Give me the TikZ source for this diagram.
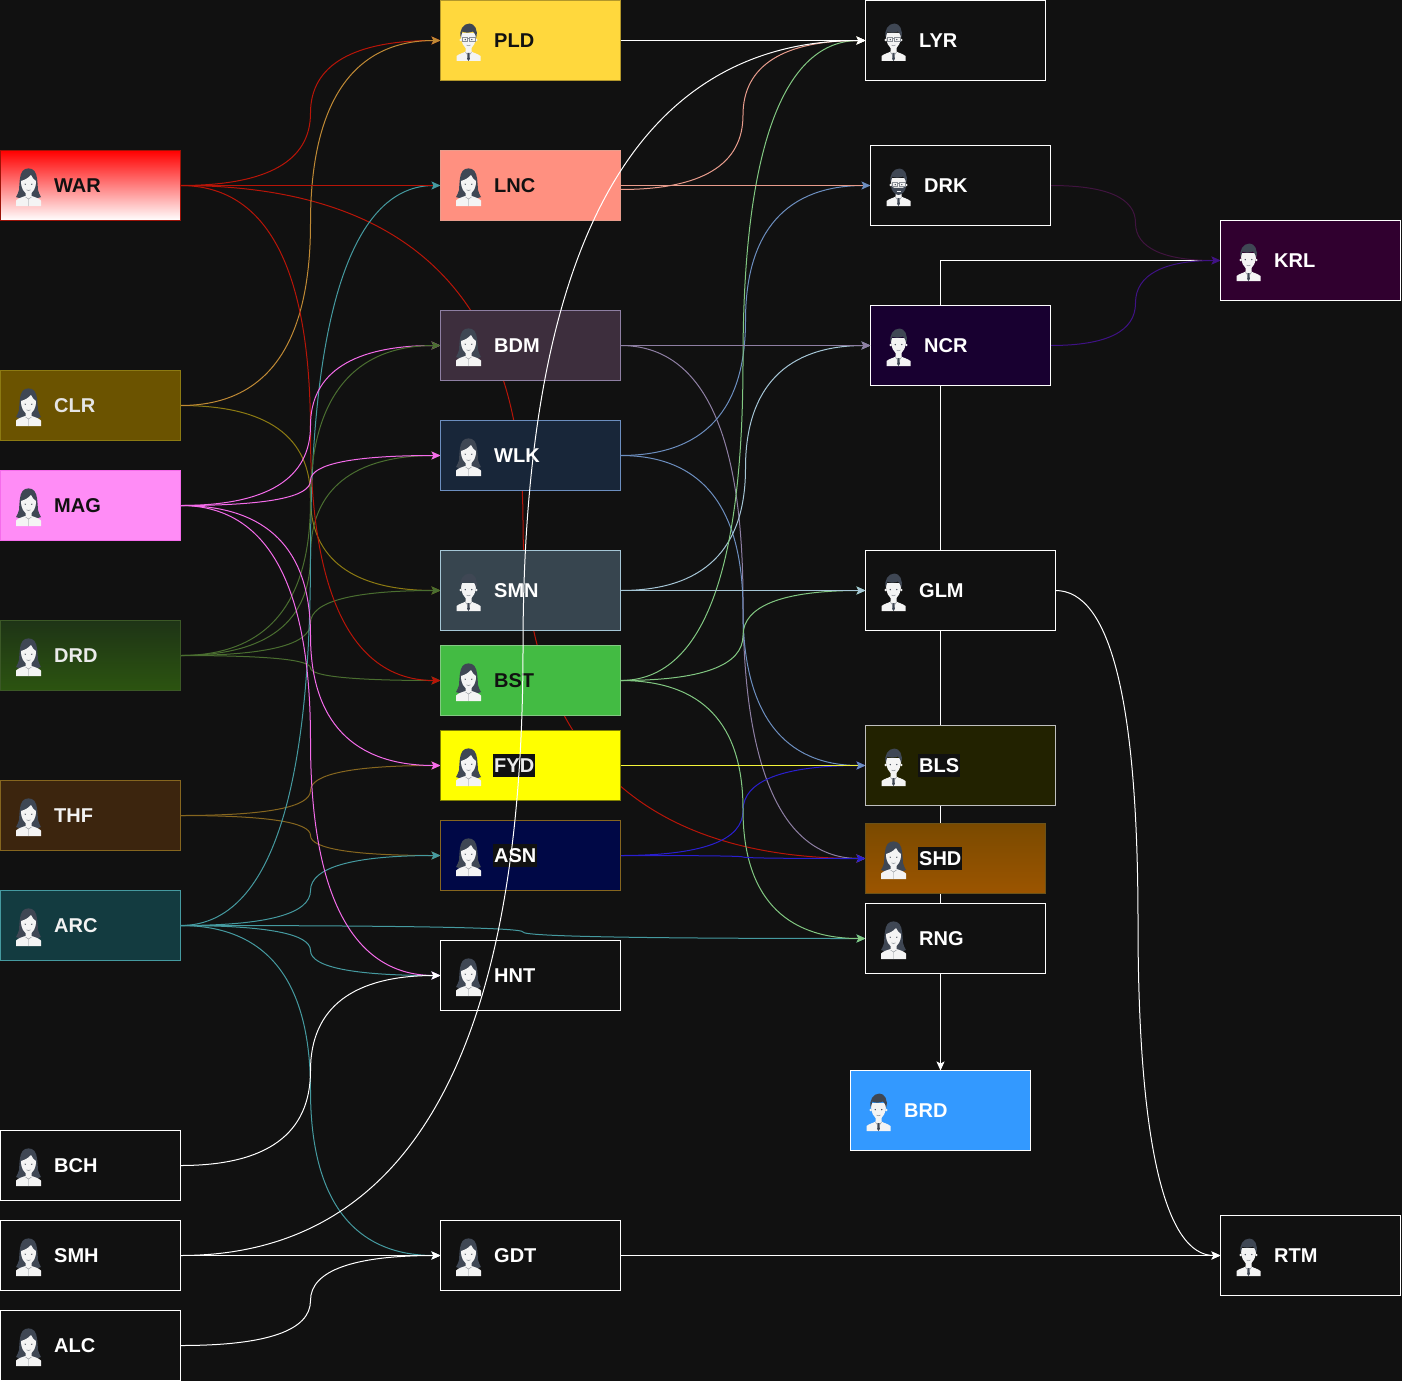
\documentclass[tikz,border=0pt]{standalone}
\usepackage{fontspec}
\setmainfont{Liberation Sans}
\usetikzlibrary{arrows.meta,calc}
\pgfdeclarelayer{edgelayer}
\pgfsetlayers{edgelayer,main}
\definecolor{bgc}{HTML}{111111}
\definecolor{hairc}{HTML}{3F4754}
\definecolor{skinc}{HTML}{F4F4F4}
\definecolor{linec}{HTML}{8A8F96}
\definecolor{ered}{HTML}{B81508}
\definecolor{eorange}{HTML}{C08A35}
\definecolor{eolive}{HTML}{8C7A12}
\definecolor{emag}{HTML}{F56CEB}
\definecolor{egreen}{HTML}{4A6E30}
\definecolor{ebrown}{HTML}{86661F}
\definecolor{eteal}{HTML}{459AA0}
\definecolor{esalmon}{HTML}{E89C8C}
\definecolor{epurpleg}{HTML}{8E7FA3}
\definecolor{eblue}{HTML}{6C8EBF}
\definecolor{esky}{HTML}{A5C6D6}
\definecolor{elgreen}{HTML}{82C882}
\definecolor{eyellow}{HTML}{F5F53A}
\definecolor{eroyal}{HTML}{2A1FD0}
\definecolor{edkpur}{HTML}{40143F}
\definecolor{epur}{HTML}{3F1285}
\definecolor{fwar}{HTML}{FF0000}
\definecolor{fyel}{HTML}{FFFF00}
\definecolor{fclr}{HTML}{6B5300}
\definecolor{fmag}{HTML}{FF8CF6}
\definecolor{fdrdt}{HTML}{1E3416}
\definecolor{fdrdb}{HTML}{2C5410}
\definecolor{fthf}{HTML}{3C250E}
\definecolor{farc}{HTML}{133B40}
\definecolor{fpld}{HTML}{FFD83D}
\definecolor{flnc}{HTML}{FF9080}
\definecolor{fbdm}{HTML}{3D2E3D}
\definecolor{fwlk}{HTML}{182639}
\definecolor{fsmn}{HTML}{37454F}
\definecolor{fbst}{HTML}{43BB43}
\definecolor{fasn}{HTML}{000846}
\definecolor{fncr}{HTML}{180030}
\definecolor{fbls}{HTML}{222200}
\definecolor{fshdt}{HTML}{7A4A00}
\definecolor{fshdb}{HTML}{9C5500}
\definecolor{fbrd}{HTML}{3399FF}
\definecolor{fkrl}{HTML}{30002F}
\tikzset{
  x=1pt,y=-1pt,
  boxn/.style={draw,line width=1pt,anchor=north west,outer sep=0pt,inner sep=0pt},
  lbl/.style={font=\bfseries\fontsize{20}{24}\selectfont,anchor=west,inner sep=0pt,text height=14.5pt,text depth=0pt},
  lblbg/.style={lbl,fill=bgc,inner xsep=1pt,inner ysep=4.5pt,xshift=-1pt},
  edgeline/.style={line width=1pt,-{Stealth[length=9pt,width=8pt,inset=2pt]}},
  plainline/.style={line width=1pt},
  femaleicon/.pic={
    \fill[hairc] (-6,-16) .. controls (-3,-19.5) and (3,-19.5) .. (6,-16)
      .. controls (9,-12) and (9,-4) .. (9.5,3) .. controls (10,6) and (11.5,8) .. (12.5,10)
      .. controls (10,12) and (-10,12) .. (-12.5,10) .. controls (-11.5,8) and (-10,6) .. (-9.5,3)
      .. controls (-9,-4) and (-9,-12) .. (-6,-16) -- cycle;
    \fill[skinc] (-12.5,19) -- (-12.5,13.5) .. controls (-10,11) and (-6,10) .. (-3,9)
      -- (-3,4) -- (3,4) -- (3,9) .. controls (6,10) and (10,11) .. (12.5,13.5) -- (12.5,19) -- cycle;
    \fill[skinc] (-7.5,-6) .. controls (-4,-7) and (0,-9) .. (2.5,-12) .. controls (3.5,-9) and (6,-7) .. (7.5,-6)
      .. controls (8,0) and (4.5,7) .. (0,7) .. controls (-4.5,7) and (-8,0) .. (-7.5,-6) -- cycle;
    \fill[hairc] (-3.3,-2.8) circle (.7) (3.3,-2.8) circle (.7);
    \draw[linec,line width=.5pt] (-2,2.8) .. controls (-1,3.8) and (1,3.8) .. (2,2.8);
    \draw[linec,line width=.4pt] (0,12) -- (0,19) (-3,10) -- (0,12) -- (3,10);
  },
  maleicon/.pic={
    \fill[skinc] (-12,19) -- (-12,14) .. controls (-9,11.5) and (-5,11) .. (-3,9.5)
      -- (-3,4) -- (3,4) -- (3,9.5) .. controls (5,11) and (9,11.5) .. (12,14) -- (12,19) -- cycle;
    \fill[skinc] (-7.5,-9) -- (7.5,-9) .. controls (8,0) and (4.5,7) .. (0,7) .. controls (-4.5,7) and (-8,0) .. (-7.5,-9) -- cycle;
    \fill[skinc] (-7.8,-2) circle (1.3) (7.8,-2) circle (1.3);
    \fill[hairc] (-7.6,-4) .. controls (-10,-12) and (-5,-18.5) .. (1,-18.5) .. controls (6,-18.5) and (10,-12) .. (7.6,-4)
      .. controls (7,-7) and (6.5,-9) .. (4.5,-10.5) .. controls (1,-9) and (-4,-9) .. (-6,-10.5) .. controls (-6.8,-8.5) and (-7.2,-6.5) .. (-7.6,-4) -- cycle;
    \fill[hairc] (-3.3,-2.4) circle (.7) (3.3,-2.4) circle (.7);
    \draw[linec,line width=.5pt] (-2,3) .. controls (-1,4) and (1,4) .. (2,3);
    \fill[hairc] (-1,11) -- (1,11) -- (1.3,17) -- (0,19) -- (-1.3,17) -- cycle;
    \draw[linec,line width=.4pt] (-3,10) -- (-1,13) (3,10) -- (1,13);
  },
  glassicon/.pic={
    \pic {maleicon};
    \draw[linec,line width=.6pt] (-6.5,-4.5) rectangle (-1,-.8) (1,-4.5) rectangle (6.5,-.8) (-1,-3.5) -- (1,-3.5);
  },
  beardicon/.pic={
    \pic {maleicon};
    \fill[hairc] (-7.5,-1) .. controls (-6,2) and (-3,.5) .. (0,1) .. controls (3,.5) and (6,2) .. (7.5,-1)
      .. controls (7.5,3) and (4,8) .. (0,8) .. controls (-4,8) and (-7.5,3) .. (-7.5,-1) -- cycle;
    \draw[skinc,line width=.5pt] (-2,4) -- (2,4);
    \draw[linec,line width=.6pt] (-6.5,-4.5) rectangle (-1,-.8) (1,-4.5) rectangle (6.5,-.8) (-1,-3.5) -- (1,-3.5);
  }
}
% name, x, y, w, h, box style, label, label style, icon
\newcommand{\persn}[9]{%
  \node[boxn,minimum width=#4pt,minimum height=#5pt,#6] (#1) at ({#2+.5},{#3+.5}) {};
  \pic at ({#2+28.5},{#3+#5/2+2}) {#9};
  \node[#8] (#1-t) at ({#2+54},{#3+#5/2+.5}) {#7};
}
% start shift (optional), colour, from, to
\newcommand{\cedge}[4][0]{%
  \coordinate (ea) at ($(#3.east)+(0,#1)$);
  \coordinate (eb) at (#4.west);
  \coordinate (em) at ($(ea)!.5!(eb)$);
  \coordinate (ep) at (ea -| em);
  \coordinate (eq) at (eb -| em);
  \coordinate (ec) at ($(ep)!.5!(eq)$);
  \draw[edgeline,#2] (ea) .. controls ($(ea)!2/3!(ep)$) and ($(ec)!2/3!(ep)$) .. (ec)
    .. controls ($(ec)!2/3!(eq)$) and ($(eb)!2/3!(eq)$) .. (eb);
}
\begin{document}
\begin{tikzpicture}
\begin{pgfonlayer}{edgelayer}
\path[use as bounding box,fill=bgc] (0,0) rectangle (1402,1381);
\end{pgfonlayer}
% boxes
\persn{WAR}{0}{150}{180}{70}{draw=ered!85!black,top color=fwar,bottom color=white}{WAR}{lbl,text=bgc}{femaleicon}
\persn{CLR}{0}{370}{180}{70}{draw=eolive,fill=fclr}{CLR}{lbl,text=black!10!white}{femaleicon}
\persn{MAG}{0}{470}{180}{70}{draw=emag,fill=fmag}{MAG}{lbl,text=bgc}{femaleicon}
\persn{DRD}{0}{620}{180}{70}{draw=egreen!80!black,top color=fdrdt,bottom color=fdrdb}{DRD}{lbl,text=black!8!white}{femaleicon}
\persn{THF}{0}{780}{180}{70}{draw=ebrown,fill=fthf}{THF}{lbl,text=black!5!white}{femaleicon}
\persn{ARC}{0}{890}{180}{70}{draw=eteal,fill=farc}{ARC}{lbl,text=black!5!white}{femaleicon}
\persn{BCH}{0}{1130}{180}{70}{draw=white,fill=bgc}{BCH}{lbl,text=white}{femaleicon}
\persn{SMH}{0}{1220}{180}{70}{draw=white,fill=bgc}{SMH}{lbl,text=white}{femaleicon}
\persn{ALC}{0}{1310}{180}{70}{draw=white,fill=bgc}{ALC}{lbl,text=white}{femaleicon}
\persn{PLD}{440}{0}{180}{80}{draw=fpld!70!black,fill=fpld}{PLD}{lbl,text=bgc}{glassicon}
\persn{LNC}{440}{150}{180}{70}{draw=esalmon,fill=flnc}{LNC}{lbl,text=bgc}{femaleicon}
\persn{BDM}{440}{310}{180}{70}{draw=epurpleg,fill=fbdm}{BDM}{lbl,text=white}{femaleicon}
\persn{WLK}{440}{420}{180}{70}{draw=eblue,fill=fwlk}{WLK}{lbl,text=white}{femaleicon}
\persn{SMN}{440}{550}{180}{80}{draw=esky,fill=fsmn}{SMN}{lbl,text=white}{maleicon}
\persn{BST}{440}{645}{180}{70}{draw=elgreen,fill=fbst}{BST}{lbl,text=bgc}{femaleicon}
\persn{FYD}{440}{730}{180}{70}{draw=fyel!50!black,fill=fyel}{FYD}{lblbg,text=black!8!white}{femaleicon}
\persn{ASN}{440}{820}{180}{70}{draw=ebrown,fill=fasn}{ASN}{lblbg,text=white}{femaleicon}
\persn{HNT}{440}{940}{180}{70}{draw=white,fill=bgc}{HNT}{lbl,text=white}{femaleicon}
\persn{GDT}{440}{1220}{180}{70}{draw=white,fill=bgc}{GDT}{lbl,text=white}{femaleicon}
\persn{LYR}{865}{0}{180}{80}{draw=white,fill=bgc}{LYR}{lbl,text=white}{glassicon}
\persn{DRK}{870}{145}{180}{80}{draw=white,fill=bgc}{DRK}{lbl,text=white}{beardicon}
\persn{NCR}{870}{305}{180}{80}{draw=white,fill=fncr}{NCR}{lbl,text=white}{maleicon}
\persn{GLM}{865}{550}{190}{80}{draw=white,fill=bgc}{GLM}{lbl,text=white}{maleicon}
\persn{BLS}{865}{725}{190}{80}{draw=black!25!white,fill=fbls}{BLS}{lblbg,text=white}{maleicon}
\persn{SHD}{865}{823}{180}{70}{draw=ebrown!80!black,top color=fshdt,bottom color=fshdb}{SHD}{lblbg,text=white}{femaleicon}
\persn{RNG}{865}{903}{180}{70}{draw=white,fill=bgc}{RNG}{lbl,text=white}{femaleicon}
\persn{BRD}{850}{1070}{180}{80}{draw=white,fill=fbrd}{BRD}{lbl,text=white}{maleicon}
\persn{KRL}{1220}{220}{180}{80}{draw=white,fill=fkrl}{KRL}{lbl,text=white}{maleicon}
\persn{RTM}{1220}{1215}{180}{80}{draw=white,fill=bgc}{RTM}{lbl,text=white}{maleicon}
% edges beneath the boxes
\begin{pgfonlayer}{edgelayer}
\cedge{ered}{WAR}{SHD}
\cedge{eteal}{ARC}{RNG}
\draw[edgeline,white] (KRL.west) -| (BRD.north);
\cedge{ebrown}{THF}{FYD}
\cedge{ebrown}{THF}{ASN}
\cedge{eteal}{ARC}{ASN}
\cedge{eolive}{CLR}{SMN}
\cedge{egreen}{DRD}{WLK}
\cedge{egreen}{DRD}{SMN}
\cedge{ered}{WAR}{PLD}
\cedge{eorange}{CLR}{PLD}
\cedge{eteal}{ARC}{LNC}
\cedge{egreen}{DRD}{BST}
\cedge{ered}{WAR}{BST}
\cedge{emag}{MAG}{BDM}
\cedge{egreen}{DRD}{BDM}
\cedge{emag}{MAG}{WLK}
\cedge{emag}{MAG}{FYD}
\cedge{eteal}{ARC}{GDT}
\cedge{eteal}{ARC}{HNT}
\cedge{emag}{MAG}{HNT}
\cedge{white}{BCH}{HNT}
\cedge{white}{ALC}{GDT}
\cedge{epurpleg}{BDM}{SHD}
\cedge{eroyal}{ASN}{BLS}
\cedge{eblue}{WLK}{BLS}
\cedge{eblue}{WLK}{DRK}
\cedge{esky}{SMN}{NCR}
\cedge{elgreen}{BST}{LYR}
\cedge{elgreen}{BST}{GLM}
\cedge{elgreen}{BST}{RNG}
\cedge{eroyal}{ASN}{SHD}
\cedge{edkpur}{DRK}{KRL}
\cedge{epur}{NCR}{KRL}
\cedge{white}{GLM}{RTM}
\cedge[4]{esalmon}{LNC}{LYR}
\end{pgfonlayer}
% straight edges
\draw[edgeline,white] (SMH.east) -- (GDT.west);
\draw[edgeline,epurpleg] (BDM.east) -- (NCR.west);
\draw[edgeline,esky] (SMN.east) -- (GLM.west);
\draw[edgeline,white] (GDT.east) -- (RTM.west);
\draw[edgeline,white] (PLD.east) -- (LYR.west);
\draw[plainline,ered] (WAR.east) -- ($(LNC.west)+(-8,0)$);
\draw[plainline,eyellow] (FYD.east) -- ($(BLS.west)+(-8,0)$);
\draw[plainline,esalmon] (LNC.east) -- ($(DRK.west)+(-8,0)$);
% edge that runs above the boxes
\cedge{white}{SMH}{LYR}
\end{tikzpicture}
\end{document}
